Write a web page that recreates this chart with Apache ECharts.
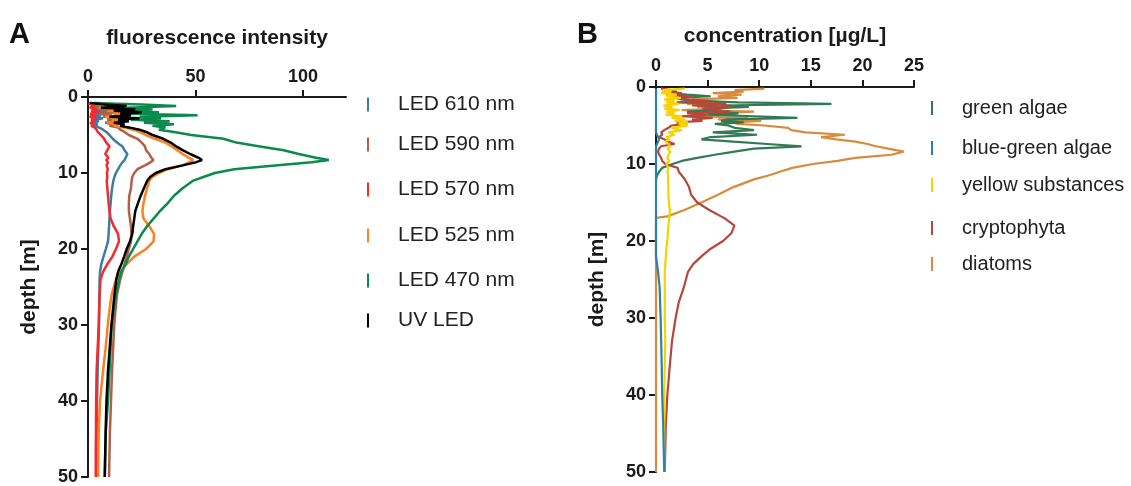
<!DOCTYPE html>
<html>
<head>
<meta charset="utf-8">
<script src="https://cdn.jsdelivr.net/npm/echarts@6/dist/echarts.min.js"></script>
<style>
  html, body { margin: 0; padding: 0; background: #fff; }
  #main { width: 1131px; height: 486px; }
</style>
</head>
<body>
<div id="main"></div>
<script>
// ---- panel A: fluorescence intensity vs depth ----
var depthA = [0.8, 1.0, 1.2, 1.4, 1.6, 1.8, 2.0, 2.2, 2.4, 2.6, 2.8, 3.0, 3.2, 3.4, 3.6, 3.8, 4.0,
  4.3, 4.6, 5.0, 5.5, 6.0, 6.5, 7.0, 7.5, 8.0, 8.3, 8.6, 9.0, 9.5, 10, 10.5, 11,
  12, 13, 14, 15, 16, 17, 18, 19, 20, 21, 22, 23, 24, 26, 28, 30, 33, 36, 40, 44, 47, 50];
var ticksA = [0, 50, 100];
var namesA = ['LED 610 nm', 'LED 590 nm', 'LED 570 nm', 'LED 525 nm', 'LED 470 nm', 'UV LED'];
var colorsA = ['#3b7ea1', '#b0604a', '#f8292b', '#ff801f', '#0b8a4d', '#000000'];
var led610 = [0.5, 2, 6, 1.5, 7, 3, 8, 2.5, 6, 1.5, 7, 3, 5, 2, 4.5, 3, 5,
  7, 8.5, 10, 11.5, 13.5, 16, 17, 18.3, 17.5, 17, 16, 15, 14, 13, 12.3, 11.8,
  11.2, 10.8, 10.5, 10.2, 10, 9.8, 9.6, 9.3, 8.3, 7.2, 6.2, 5.6, 5.4, 5.3, 5.2, 5.1, 4.8, 4.5, 4.2, 4, 3.9, 3.9];
var led590 = [0.5, 4, 10, 3, 12, 6, 14, 5, 11, 7, 15, 9, 13, 8, 12, 10, 14,
  15, 17, 19, 23, 25, 26.5, 27, 28.5, 29.5, 30.5, 29, 26.5, 23, 21.5, 20.6, 20.3,
  20, 19.2, 19, 19, 19.5, 20, 20.2, 20, 19, 18, 17, 16, 15, 13.5, 12.8, 12.2, 11.7, 11.2, 10.7, 10.2, 10, 9.8];
var led570 = [0.3, 1, 3, 0.8, 4, 1.5, 5, 1, 3.5, 0.8, 4, 1.5, 3, 1, 2.5, 1.5, 3,
  4, 4.5, 6, 7.5, 8.5, 10, 9, 8, 9.5, 8.5, 9.3, 8.6, 9.2, 8.8, 9, 8.7,
  9, 9.3, 9.6, 10, 10.5, 12, 14, 14.4, 13, 11.3, 9, 7, 5.8, 5.4, 5.2, 5, 4.5, 4, 3.8, 3.7, 3.6, 3.6];
var led525 = [1, 6, 14, 5, 17, 9, 21, 12, 16, 8, 20, 11, 15, 9, 14, 12, 17,
  21, 24, 27, 31, 36, 39, 41.5, 44, 47, 49, 47, 44, 37, 33, 30, 28.5,
  27.5, 26.5, 25.8, 25.3, 25.8, 28.5, 30.7, 30.5, 27, 21.5, 18, 15, 13, 11, 10, 9.2, 8.2, 7, 5.6, 5, 4.8, 4.7];
var led470 = [3, 25, 41, 18, 30, 14, 33, 20, 51, 24, 34, 20, 38, 26, 40, 30, 36,
  33, 40, 48, 63, 69, 80, 91, 98, 106, 112, 104, 87, 68, 59, 54, 49,
  44, 40, 37, 33.5, 30.5, 27.5, 25, 23, 21, 19, 17.5, 15.5, 14.5, 13, 12, 11, 10.5, 10, 9.3, 8.3, 8, 7.8];
var uvLed = [1, 8, 18, 6, 22, 12, 25, 15, 20, 10, 24, 14, 19, 12, 17, 15, 19,
  24, 27, 30, 35, 38.5, 41, 44, 47.5, 51.5, 53, 50, 44, 36, 31.5, 29, 27.6,
  26, 24.5, 23.2, 22, 21.5, 21, 20.6, 19.5, 18, 16.8, 15.5, 14, 13.2, 12.3, 11.6, 10.9, 10.1, 9.3, 8.6, 8.2, 8, 7.8];
var seriesA = [led610, led590, led570, led525, led470, uvLed];
var legendYA = [103, 143, 188, 234, 279, 319];

// ---- panel B: concentration vs depth ----
var depthB = [0.2, 0.4, 0.6, 0.8, 1.0, 1.2, 1.4, 1.6, 1.8, 2.0, 2.2, 2.4, 2.6, 2.8, 3.0, 3.2, 3.4, 3.6, 3.8, 4.0,
  4.2, 4.4, 4.6, 4.8, 5.0, 5.3, 5.6, 5.9, 6.2, 6.5, 6.8, 7.1, 7.4, 7.7, 8.0, 8.4, 8.8, 9.2, 9.6, 10,
  10.5, 11, 11.5, 12, 13, 14, 15, 16, 16.8, 17, 18, 19, 20, 21, 22, 23, 24, 26, 28, 30, 33, 36, 40, 44, 47, 50];
var ticksB = [0, 5, 10, 15, 20, 25];
var namesB = ['green algae', 'blue-green algae', 'yellow substances', 'cryptophyta', 'diatoms'];
var colorsB = ['#317a55', '#2f80a8', '#f7d200', '#b4483b', '#d88b3c'];
var greenAlgae = [0.5, 1, 2, 1.2, 3, 5.3, 2, 2.4, 4, 8, 17, 6.3, 9, 4.7, 6, 3, 8, 5, 9.5, 13.7,
  7, 6.3, 8.5, 5.7, 7, 7.6, 9.5, 5.5, 9.8, 5.3, 4.4, 7.5, 10.8, 14.1, 9.5, 7.6, 5.7, 4, 2.5, 1.6,
  0.6, 0.3, 0.1, 0, null, null, null, null, null, null, null, null, null, null, null, null, null, null, null, null, null, null, null, null, null, null];
var blueGreenAlgae = [0, 0, 0, 0, 0, 0, 0, 0, 0, 0, 0, 0, 0, 0, 0, 0, 0, 0, 0, 0,
  0, 0, 0, 0, 0, 0, 0, 0, 0.1, 0.2, 0.3, 0.2, 0.1, 0, 0, 0, 0, 0, 0, 0,
  0, 0, 0, 0, 0, 0, 0, 0, 0, 0, 0, 0, 0, 0, 0, 0.1, 0.2, 0.35, 0.4, 0.45, 0.5, 0.55, 0.6, 0.7, 0.75, 0.8];
var yellowSubst = [2.8, 0.6, 1.5, 0.5, 2, 1, 2.4, 0.8, 1.8, 1, 2.2, 0.7, 1.6, 0.8, 2.3, 1, 1.8, 0.9, 2.5, 1.5,
  2.8, 1.8, 3.1, 2.2, 3.1, 1.5, 2.5, 1.2, 1.8, 1, 1.3, 0.9, 1.2, 1.4, 1.1, 1.4, 1.2, 1.1, 1.3, 1.0,
  1.2, 1.1, 1.2, 1.15, 1.2, 1.2, 1.25, 1.35, 1.3, 1.3, 1.2, 1.15, 1.1, 1.0, 0.95, 0.9, 0.85, 0.85, 0.85, 0.85, 0.9, 0.85, 0.8, 0.8, 0.8, 0.8];
var cryptophyta = [0.5, 1.5, 0.8, 2.5, 1, 3.5, 1.5, 3, 5, 2, 6.8, 3.5, 7.3, 4.5, 6, 7.2, 3, 5, 2.5, 5.5,
  3.5, 4.5, 2, 3, 1.5, 1.2, 0.8, 0.5, 0.6, 0.3, 0.8, 1.2, 1.8, 0.5, 0.3, 0.2, 0.3, 0.5, 0.6, 0.9,
  2.1, 2.2, 2.5, 2.8, 3.2, 3.4, 4, 5.2, 6.3, 6.6, 7.6, 7.3, 6.5, 5.3, 4.4, 3.6, 3.1, 2.7, 2.2, 1.9, 1.55, 1.35, 1.1, 0.95, 0.9, 0.85];
var diatoms = [10.5, 7.6, 8.5, 5.5, 8.3, 6, 7.9, 3.5, 4.7, 6.5, 3, 7.3, 4, 6.3, 2.5, 9.5, 5, 7, 4, 8.9,
  6, 10.2, 7.5, 7.9, 10.5, 12.8, 13.1, 14.5, 18.3, 16, 17.5, 19.3, 20.5, 21.3, 22.5, 24, 22.8, 19.3, 17.6, 15.2,
  13.2, 12, 10.9, 9.5, 7.5, 6, 4.4, 2.7, 1.1, 0, 0, 0, 0, 0, 0, 0, 0, 0, 0, 0, 0, 0, 0, 0, 0, 0];
var seriesB = [greenAlgae, blueGreenAlgae, yellowSubst, cryptophyta, diatoms];
var zB = [3, 6, 5, 4, 2];
var legendYB = [107, 147, 184, 227, 263];

var ink = '#1a1a1a';

function xAxisOf(grid, max, ticks, name, nameGap, labelMargin) {
  return {
    gridIndex: grid, type: 'value', position: 'top', min: 0, max: max,
    name: name, nameLocation: 'middle', nameGap: nameGap,
    nameTextStyle: { fontSize: 21, fontWeight: 'bold', color: ink },
    axisLine: { show: true, lineStyle: { color: ink, width: 2 } },
    axisTick: { show: true, length: 7, customValues: ticks, lineStyle: { color: ink, width: 2 } },
    axisLabel: { fontSize: 18, fontWeight: 'bold', color: ink, margin: labelMargin, customValues: ticks },
    splitLine: { show: false }
  };
}
function yAxisOf(grid) {
  return {
    gridIndex: grid, type: 'value', inverse: true, min: 0, max: 50, interval: 10,
    name: 'depth [m]', nameLocation: 'middle', nameGap: 48,
    nameTextStyle: { fontSize: 21, fontWeight: 'bold', color: ink },
    axisLine: { show: true, lineStyle: { color: ink, width: 2 } },
    axisTick: { show: true, length: 7, lineStyle: { color: ink, width: 2 } },
    axisLabel: { fontSize: 18, fontWeight: 'bold', color: ink, margin: 10 },
    splitLine: { show: false }
  };
}

var series = [];
var legends = [];
namesA.forEach(function (name, k) {
  series.push({
    name: name, type: 'line', xAxisIndex: 0, yAxisIndex: 0, color: colorsA[k],
    showSymbol: false, symbol: 'none', z: 2 + k,
    lineStyle: { width: 2.5 },
    data: depthA.map(function (d, i) { return [seriesA[k][i], d]; })
  });
  legends.push({
    left: 367, top: legendYA[k] - 9, padding: 0, data: [name], icon: 'rect',
    itemWidth: 2, itemHeight: 14, selectedMode: false,
    textStyle: { fontSize: 21, color: '#222', padding: [0, 0, 0, 24] }
  });
});
namesB.forEach(function (name, k) {
  series.push({
    name: name, type: 'line', xAxisIndex: 1, yAxisIndex: 1, color: colorsB[k],
    showSymbol: false, symbol: 'none', z: zB[k], connectNulls: false,
    lineStyle: { width: 2.2 },
    data: depthB.map(function (d, i) { return [seriesB[k][i], d]; })
  });
  legends.push({
    left: 931, top: legendYB[k] - 9, padding: 0, data: [name], icon: 'rect',
    itemWidth: 2, itemHeight: 14, selectedMode: false,
    textStyle: { fontSize: 20, color: '#222', padding: [0, 0, 0, 24] }
  });
});

var chart = echarts.init(document.getElementById('main'));
chart.setOption({
  animation: false,
  backgroundColor: '#fff',
  textStyle: { fontFamily: 'Liberation Sans' },
  title: [
    { text: 'A', left: 9, top: 20, padding: 0, textStyle: { fontSize: 29, fontWeight: 'bold', color: '#111' } },
    { text: 'B', left: 577, top: 20, padding: 0, textStyle: { fontSize: 29, fontWeight: 'bold', color: '#111' } }
  ],
  grid: [
    { left: 88, top: 97, width: 258, height: 385 },
    { left: 656, top: 87, width: 258, height: 385 }
  ],
  xAxis: [
    xAxisOf(0, 120, ticksA, 'fluorescence intensity', 48, 11),
    xAxisOf(1, 25, ticksB, 'concentration [µg/L]', 40, 12)
  ],
  yAxis: [yAxisOf(0), yAxisOf(1)],
  legend: legends,
  series: series
});
</script>
</body>
</html>
